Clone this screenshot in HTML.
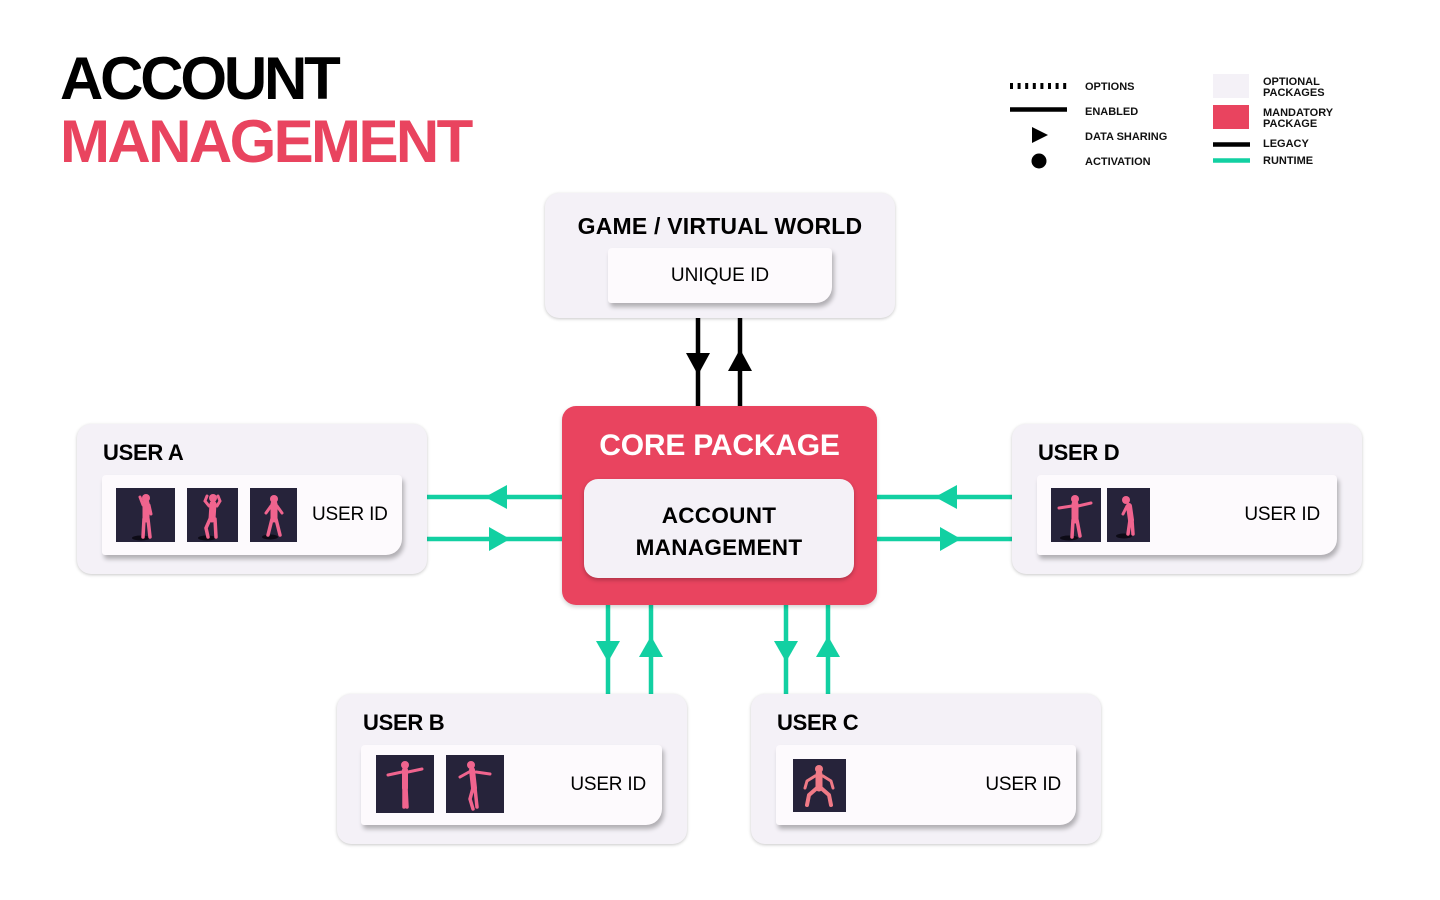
<!DOCTYPE html>
<html>
<head>
<meta charset="utf-8">
<style>
  html,body{margin:0;padding:0;background:#fff;}
  body{width:1440px;height:900px;position:relative;overflow:hidden;font-family:"Liberation Sans",Arial,sans-serif;color:#000;}
  .abs{position:absolute;}
  .t{position:absolute;white-space:nowrap;}
  .box{position:absolute;background:#F4F1F7;border-radius:14px;box-shadow:0 1px 3px rgba(0,0,0,0.22);}
  .card{position:absolute;background:#FDFAFD;border-radius:4px 4px 16px 3px;box-shadow:2px 4px 5px rgba(0,0,0,0.28);}
  .thumb{position:absolute;background:#26233A;}
  .thumb svg{width:100%;height:100%;display:block;}
  .hd{font-weight:bold;font-size:22px;line-height:30px;letter-spacing:-0.3px;}
  .uid{font-size:19px;line-height:24px;letter-spacing:-0.2px;}
  .lg{font-weight:bold;font-size:11px;line-height:12px;color:#111;}
</style>
</head>
<body>

<!-- Title -->
<div class="t" style="left:60px;top:49px;font-size:60px;line-height:60px;font-weight:bold;letter-spacing:-3.2px;">ACCOUNT</div>
<div class="t" style="left:60px;top:112px;font-size:60px;line-height:60px;font-weight:bold;letter-spacing:-2.6px;color:#E9445F;">MANAGEMENT</div>

<!-- Legend -->
<svg class="abs" style="left:0;top:0" width="1440" height="200">
  <line x1="1010" y1="86" x2="1067" y2="86" stroke="#000" stroke-width="6" stroke-dasharray="3 4.6"/>
  <line x1="1010" y1="109.5" x2="1067" y2="109.5" stroke="#000" stroke-width="4.5"/>
  <polygon points="1032,127 1032,143 1048,135" fill="#000"/>
  <circle cx="1039" cy="161" r="7.5" fill="#000"/>
  <rect x="1213" y="74" width="36" height="24" fill="#F4F1F7"/>
  <rect x="1213" y="105" width="36" height="24" fill="#E9445F"/>
  <line x1="1213" y1="144.5" x2="1250" y2="144.5" stroke="#000" stroke-width="4.5"/>
  <line x1="1213" y1="160.5" x2="1250" y2="160.5" stroke="#12D0A2" stroke-width="4.5"/>
</svg>
<div class="t lg" style="left:1085px;top:81px;">OPTIONS</div>
<div class="t lg" style="left:1085px;top:106px;">ENABLED</div>
<div class="t lg" style="left:1085px;top:131px;">DATA SHARING</div>
<div class="t lg" style="left:1085px;top:156px;">ACTIVATION</div>
<div class="t lg" style="left:1263px;top:77px;line-height:11px;">OPTIONAL<br>PACKAGES</div>
<div class="t lg" style="left:1263px;top:108px;line-height:11px;">MANDATORY<br>PACKAGE</div>
<div class="t lg" style="left:1263px;top:138px;">LEGACY</div>
<div class="t lg" style="left:1263px;top:155px;">RUNTIME</div>

<!-- Connectors -->
<svg class="abs" style="left:0;top:0" width="1440" height="900">
  <line x1="698" y1="318" x2="698" y2="408" stroke="#000" stroke-width="4.5"/>
  <line x1="740" y1="318" x2="740" y2="408" stroke="#000" stroke-width="4.5"/>
  <polygon points="686,353 710,353 698,375" fill="#000"/>
  <polygon points="728,371 752,371 740,349" fill="#000"/>
  <line x1="427" y1="497" x2="564" y2="497" stroke="#12D0A2" stroke-width="4.5"/>
  <line x1="427" y1="539" x2="564" y2="539" stroke="#12D0A2" stroke-width="4.5"/>
  <polygon points="485,497 507,485 507,509" fill="#12D0A2"/>
  <polygon points="489,527 489,551 510,539" fill="#12D0A2"/>
  <line x1="875" y1="497" x2="1012" y2="497" stroke="#12D0A2" stroke-width="4.5"/>
  <line x1="875" y1="539" x2="1012" y2="539" stroke="#12D0A2" stroke-width="4.5"/>
  <polygon points="935,497 957,485 957,509" fill="#12D0A2"/>
  <polygon points="940,527 940,551 961,539" fill="#12D0A2"/>
  <line x1="608" y1="603" x2="608" y2="694" stroke="#12D0A2" stroke-width="4.5"/>
  <line x1="651" y1="603" x2="651" y2="694" stroke="#12D0A2" stroke-width="4.5"/>
  <line x1="786" y1="603" x2="786" y2="694" stroke="#12D0A2" stroke-width="4.5"/>
  <line x1="828" y1="603" x2="828" y2="694" stroke="#12D0A2" stroke-width="4.5"/>
  <polygon points="596,641 620,641 608,662" fill="#12D0A2"/>
  <polygon points="639,657 663,657 651,636" fill="#12D0A2"/>
  <polygon points="774,641 798,641 786,662" fill="#12D0A2"/>
  <polygon points="816,657 840,657 828,636" fill="#12D0A2"/>
</svg>

<!-- Game / Virtual world -->
<div class="box" style="left:545px;top:193px;width:350px;height:125px;"></div>
<div class="t hd" style="left:545px;width:350px;text-align:center;top:211px;font-size:23px;letter-spacing:0.2px;">GAME / VIRTUAL WORLD</div>
<div class="card" style="left:608px;top:248px;width:224px;height:55px;"></div>
<div class="t uid" style="left:608px;width:224px;text-align:center;top:264px;letter-spacing:0;">UNIQUE ID</div>

<!-- Core package -->
<div class="abs" style="left:562px;top:406px;width:315px;height:199px;background:#E9445F;border-radius:14px;box-shadow:0 2px 4px rgba(0,0,0,0.18);"></div>
<div class="t" style="left:562px;width:315px;text-align:center;top:428px;font-size:30px;line-height:36px;font-weight:bold;color:#fff;letter-spacing:-0.2px;">CORE PACKAGE</div>
<div class="abs" style="left:584px;top:479px;width:270px;height:99px;background:#F4F1F7;border-radius:14px;box-shadow:0 2px 4px rgba(0,0,0,0.25);"></div>
<div class="t" style="left:584px;width:270px;text-align:center;top:500px;font-size:22.5px;line-height:32px;font-weight:bold;letter-spacing:0.3px;">ACCOUNT<br>MANAGEMENT</div>

<!-- User A -->
<div class="box" style="left:77px;top:424px;width:350px;height:150px;"></div>
<div class="t hd" style="left:103px;top:438px;">USER A</div>
<div class="card" style="left:102px;top:475px;width:300px;height:80px;"></div>
<div class="thumb" style="left:116px;top:488px;width:59px;height:54px;">
  <svg viewBox="0 0 59 54"><ellipse cx="25" cy="50" rx="9" ry="2.5" fill="#0d0b16"/><g stroke="#F0648E" stroke-linecap="round" fill="none"><path d="M30 15 L30 31" stroke-width="7"/><path d="M28 31 L27 49 M32 31 L34 49" stroke-width="3.5"/><path d="M27 17 L24 9 M33 17 L35 26" stroke-width="3"/></g><circle cx="30" cy="10" r="4" fill="#F0648E"/></svg>
</div>
<div class="thumb" style="left:187px;top:488px;width:51px;height:54px;">
  <svg viewBox="0 0 51 54"><ellipse cx="20" cy="50" rx="9" ry="2.5" fill="#0d0b16"/><g stroke="#F0648E" stroke-linecap="round" fill="none"><path d="M26 16 L25 31" stroke-width="7"/><path d="M23 31 L19 40 L21 49 M28 31 L29 49" stroke-width="3.5"/><path d="M22 18 L18 13 L20 8 M30 18 L33 13 L31 8" stroke-width="3"/></g><circle cx="26" cy="10" r="4" fill="#F0648E"/></svg>
</div>
<div class="thumb" style="left:250px;top:488px;width:47px;height:54px;">
  <svg viewBox="0 0 47 54"><ellipse cx="20" cy="49" rx="8" ry="2.5" fill="#0d0b16"/><g stroke="#F0648E" stroke-linecap="round" fill="none"><path d="M24 16 L24 31" stroke-width="7"/><path d="M22 31 L18 47 M26 31 L30 47" stroke-width="3.5"/><path d="M21 18 L16 25 M27 18 L32 25" stroke-width="3"/></g><circle cx="24" cy="11" r="4" fill="#F0648E"/></svg>
</div>
<div class="t uid" style="left:312px;top:503px;">USER ID</div>

<!-- User D -->
<div class="box" style="left:1012px;top:424px;width:350px;height:150px;"></div>
<div class="t hd" style="left:1038px;top:438px;">USER D</div>
<div class="card" style="left:1037px;top:475px;width:300px;height:80px;"></div>
<div class="thumb" style="left:1051px;top:488px;width:50px;height:54px;">
  <svg viewBox="0 0 50 54"><ellipse cx="18" cy="50" rx="9" ry="2.5" fill="#0d0b16"/><g stroke="#F0648E" stroke-linecap="round" fill="none"><path d="M24 16 L24 32" stroke-width="7"/><path d="M22 32 L21 49 M26 32 L29 48" stroke-width="3.5"/><path d="M21 18 L8 20 M27 18 L40 15" stroke-width="3"/></g><circle cx="24" cy="11" r="4" fill="#F0648E"/></svg>
</div>
<div class="thumb" style="left:1107px;top:488px;width:43px;height:54px;">
  <svg viewBox="0 0 43 54"><ellipse cx="17" cy="48" rx="8" ry="2.5" fill="#0d0b16"/><g stroke="#F0648E" stroke-linecap="round" fill="none"><path d="M22 18 L24 32" stroke-width="6"/><path d="M23 32 L21 46 M25 32 L26 46" stroke-width="3.5"/><path d="M20 18 L16 26" stroke-width="3"/></g><circle cx="19" cy="12" r="4" fill="#F0648E"/></svg>
</div>
<div class="t uid" style="left:1037px;width:283px;text-align:right;top:503px;">USER ID</div>

<!-- User B -->
<div class="box" style="left:337px;top:694px;width:350px;height:150px;"></div>
<div class="t hd" style="left:363px;top:708px;">USER B</div>
<div class="card" style="left:361px;top:745px;width:301px;height:80px;"></div>
<div class="thumb" style="left:376px;top:755px;width:58px;height:58px;">
  <svg viewBox="0 0 58 58"><g stroke="#F0648E" stroke-linecap="round" fill="none"><path d="M29 15 L29 33" stroke-width="6"/><path d="M28 33 L28 52 M30 33 L31 52" stroke-width="3.5"/><path d="M26 17 L12 20 M32 17 L46 14" stroke-width="3"/></g><circle cx="29" cy="10" r="4" fill="#F0648E"/></svg>
</div>
<div class="thumb" style="left:446px;top:755px;width:58px;height:58px;">
  <svg viewBox="0 0 58 58"><g stroke="#F0648E" stroke-linecap="round" fill="none"><path d="M26 15 L28 33" stroke-width="6"/><path d="M27 33 L24 44 L27 54 M29 33 L31 52" stroke-width="3.5"/><path d="M23 17 L14 22 M30 17 L44 19" stroke-width="3"/></g><circle cx="25" cy="10" r="4" fill="#F0648E"/></svg>
</div>
<div class="t uid" style="left:361px;width:285px;text-align:right;top:773px;">USER ID</div>

<!-- User C -->
<div class="box" style="left:751px;top:694px;width:350px;height:150px;"></div>
<div class="t hd" style="left:777px;top:708px;">USER C</div>
<div class="card" style="left:776px;top:745px;width:300px;height:80px;"></div>
<div class="thumb" style="left:793px;top:759px;width:53px;height:53px;">
  <svg viewBox="0 0 53 53"><g stroke="#F07A86" stroke-linecap="round" stroke-linejoin="round" fill="none"><path d="M26 15 L26 29" stroke-width="7"/><path d="M24 29 L16 36 L14 46 M28 29 L36 36 L38 46" stroke-width="4"/><path d="M22 17 L14 22 L12 29 M30 17 L38 22 L40 29" stroke-width="3"/></g><circle cx="26" cy="10" r="4" fill="#F07A86"/></svg>
</div>
<div class="t uid" style="left:776px;width:285px;text-align:right;top:773px;">USER ID</div>

</body>
</html>
